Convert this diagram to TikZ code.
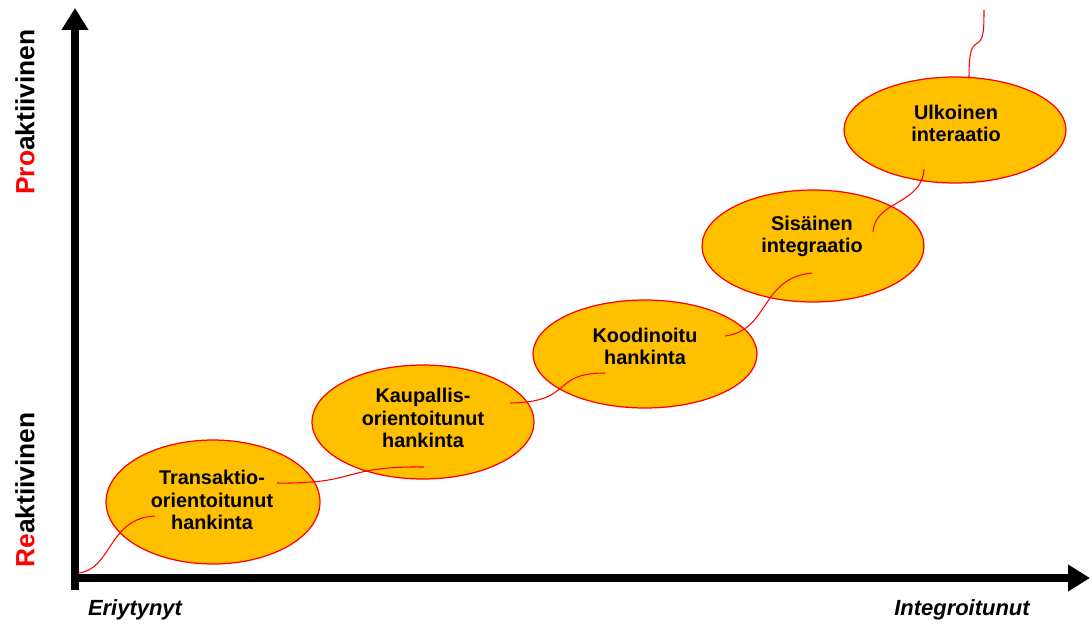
\documentclass[tikz,border=0pt]{standalone}
\usepackage{fontspec}
\setmainfont{Liberation Sans}
\usepackage{xcolor}
\usetikzlibrary{arrows.meta,calc,shapes.geometric}
\definecolor{stageorange}{HTML}{FFC000}
\definecolor{stagered}{HTML}{FF0000}

\begin{document}
\begin{tikzpicture}[x=0.02cm,y=-0.02cm,
    axis/.style={line width=4pt,-{Triangle[length=12.5pt,width=14.5pt]}},
    stage/.style={ellipse,draw=stagered,line width=0.7pt,fill=stageorange,
      inner sep=0pt},
    stagetext/.style={align=center,inner sep=0pt,
      font=\bfseries\fontsize{11.3}{12.6}\selectfont},
    link/.style={draw=stagered,line width=0.6pt},
    axislabel/.style={font=\bfseries\fontsize{15}{18}\selectfont,rotate=90},
    endlabel/.style={font=\bfseries\itshape\fontsize{12.5}{15}\selectfont}]
    \useasboundingbox (0,0) rectangle (1092,626);

    % axes
    \coordinate (ytop) at (75,8);
    \coordinate (ybot) at (75,590);
    \coordinate (xleft) at (71,578);
    \coordinate (xright) at (1090,578);
    \draw[axis] (ybot) -- (ytop);
    \draw[axis] (xleft) -- (xright);
    \node[axislabel] (reak) at (25,490) {\textcolor{stagered}{Re}aktiivinen};
    \node[axislabel] (proak) at (25,112) {\textcolor{stagered}{Pro}aktiivinen};
    \node[endlabel] (eriy) at (135,610) {Eriytynyt};
    \node[endlabel] (integ) at (962,610) {Integroitunut};

    % stages
    \node[stage,minimum width=4.28cm,minimum height=2.48cm] (e1) at (213,502) {};
    \node[stage,minimum width=4.44cm,minimum height=2.28cm] (e2) at (423,422) {};
    \node[stage,minimum width=4.48cm,minimum height=2.16cm] (e3) at (645,354) {};
    \node[stage,minimum width=4.44cm,minimum height=2.24cm] (e4) at (813,246) {};
    \node[stage,minimum width=4.44cm,minimum height=2.12cm] (e5) at (955,130) {};
    \node[stagetext] (t1) at (212,500) {Transaktio-\\orientoitunut\\hankinta};
    \node[stagetext] (t2) at (423,418) {Kaupallis-\\orientoitunut\\hankinta};
    \node[stagetext] (t3) at (645,346) {Koodinoitu\\hankinta};
    \node[stagetext] (t4) at (812,236) {Sisäinen\\integraatio};
    \node[stagetext] (t5) at (956,123) {Ulkoinen\\interaatio};

    % link ends
    \coordinate (o1) at (78,573);
    \coordinate (e1in) at ($(e1)+(-58,14)$);
    \coordinate (e1out) at ($(e1)+(64,-19)$);
    \coordinate (e2in) at ($(e2)+(1,45)$);
    \coordinate (e2out) at ($(e2)+(87,-19)$);
    \coordinate (e3in) at ($(e3)+(-40,19)$);
    \coordinate (e3out) at ($(e3)+(80,-18)$);
    \coordinate (e4in) at ($(e4)+(-1,27)$);
    \coordinate (e4out) at ($(e4)+(60,-14)$);
    \coordinate (e5in) at ($(e5)+(-31,39)$);
    \coordinate (e5out) at ($(e5)+(14,-53)$);
    \coordinate (top) at (984,10);

    \draw[link] (o1) .. controls (112,570) and (108,518) .. (e1in);
    \draw[link] (e1out) .. controls (360,484) and (340,466) .. (e2in);
    \draw[link] (e2out) .. controls (575,402) and (550,373) .. (e3in);
    \draw[link] (e3out) .. controls (770,330) and (760,278) .. (e4in);
    \draw[link] (e4out) .. controls (875,200) and (922,205) .. (e5in);
    \draw[link] (e5out) .. controls (969,50) and (972,47) .. (976,44)
      .. controls (983,40) and (984,35) .. (top);
  \end{tikzpicture}
\end{document}
